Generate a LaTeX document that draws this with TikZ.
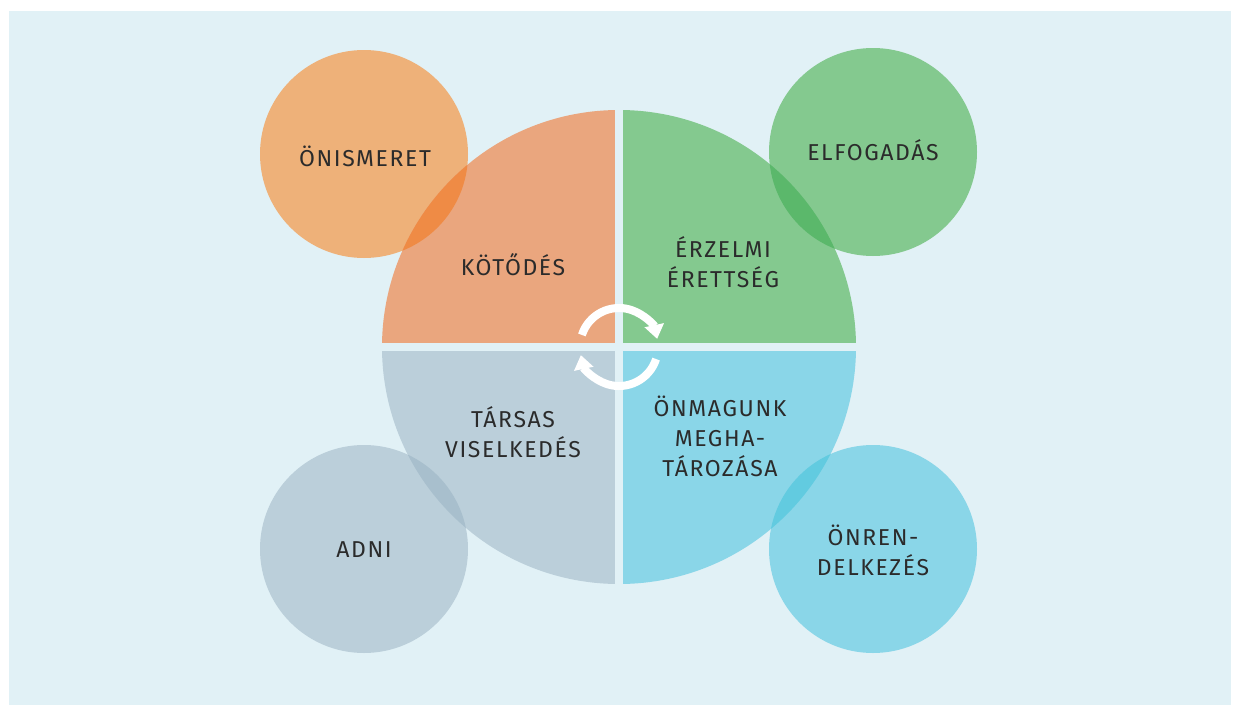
\documentclass[tikz,border=0pt]{standalone}
\usepackage{fontspec}
\setmainfont{Fira Sans}[LetterSpace=7]
\usetikzlibrary{arrows.meta}
\definecolor{bgc}{RGB}{225,241,246}
\definecolor{orS}{RGB}{238,177,121}
\definecolor{orQ}{RGB}{234,166,126}
\definecolor{orX}{RGB}{239,139,69}
\definecolor{grS}{RGB}{132,201,143}
\definecolor{grQ}{RGB}{132,201,143}
\definecolor{grX}{RGB}{91,184,107}
\definecolor{gyS}{RGB}{187,207,218}
\definecolor{gyQ}{RGB}{187,207,218}
\definecolor{gyX}{RGB}{168,191,205}
\definecolor{cyS}{RGB}{138,214,232}
\definecolor{cyQ}{RGB}{138,214,232}
\definecolor{cyX}{RGB}{98,203,224}
\definecolor{txt}{RGB}{43,43,43}
\tikzset{
  lbl/.style={text=txt, font=\fontsize{23}{30}\selectfont, align=center, inner sep=0pt},
  cyc/.style={draw=white, line width=8pt, -{Triangle[length=14pt,width=19pt]}},
}
\begin{document}
\begin{tikzpicture}[x=1pt,y=-1pt]
\useasboundingbox (0,0) rectangle (1240,712);
\fill[white] (0,0) rectangle (1240,712);
\fill[bgc] (9,11) rectangle (1231,705);
% centres
\coordinate (C) at (619,347);
\coordinate (TL) at (364,154);
\coordinate (TR) at (873,152);
\coordinate (BL) at (364,549);
\coordinate (BR) at (873,549);
% small circles
\fill[orS] (TL) circle[radius=104];
\fill[grS] (TR) circle[radius=104];
\fill[gyS] (BL) circle[radius=104];
\fill[cyS] (BR) circle[radius=104];
% quadrants
\begin{scope}\clip (0,0) rectangle (619,347); \fill[orQ] (C) circle[radius=237]; \end{scope}
\begin{scope}\clip (619,0) rectangle (1240,347); \fill[grQ] (C) circle[radius=237]; \end{scope}
\begin{scope}\clip (0,347) rectangle (619,712); \fill[gyQ] (C) circle[radius=237]; \end{scope}
\begin{scope}\clip (619,347) rectangle (1240,712); \fill[cyQ] (C) circle[radius=237]; \end{scope}
% overlaps
\begin{scope}\clip (TL) circle[radius=104]; \clip (0,0) rectangle (619,347); \fill[orX] (C) circle[radius=237]; \end{scope}
\begin{scope}\clip (TR) circle[radius=104]; \clip (619,0) rectangle (1240,347); \fill[grX] (C) circle[radius=237]; \end{scope}
\begin{scope}\clip (BL) circle[radius=104]; \clip (0,347) rectangle (619,712); \fill[gyX] (C) circle[radius=237]; \end{scope}
\begin{scope}\clip (BR) circle[radius=104]; \clip (619,347) rectangle (1240,712); \fill[cyX] (C) circle[radius=237]; \end{scope}
% gaps
\coordinate (gN) at (619,100);
\coordinate (gS) at (619,594);
\coordinate (gW) at (372,347);
\coordinate (gE) at (866,347);
\draw[bgc, line width=8pt] (gN) -- (gS);
\draw[bgc, line width=8pt] (gW) -- (gE);
% cycle arrows
\draw[cyc] ([shift={(198:39)}]C) arc[start angle=198, end angle=348, radius=39];
\draw[cyc] ([shift={(18:39)}]C) arc[start angle=18, end angle=168, radius=39];
% labels
\node[lbl] (n1) at (365,156) {ÖNISMERET};
\node[lbl] (n2) at (873,150) {ELFOGADÁS};
\node[lbl] (n3) at (513,265) {KÖTŐDÉS};
\node[lbl] (n4) at (723,262) {ÉRZELMI\\ÉRETTSÉG};
\node[lbl] (n5) at (513,432) {TÁRSAS\\VISELKEDÉS};
\node[lbl] (n6) at (720,436) {ÖNMAGUNK\\MEGHA-\\TÁROZÁSA};
\node[lbl] (n7) at (364,550) {ADNI};
\node[lbl] (n8) at (873,550) {ÖNREN-\\DELKEZÉS};
\end{tikzpicture}
\end{document}
